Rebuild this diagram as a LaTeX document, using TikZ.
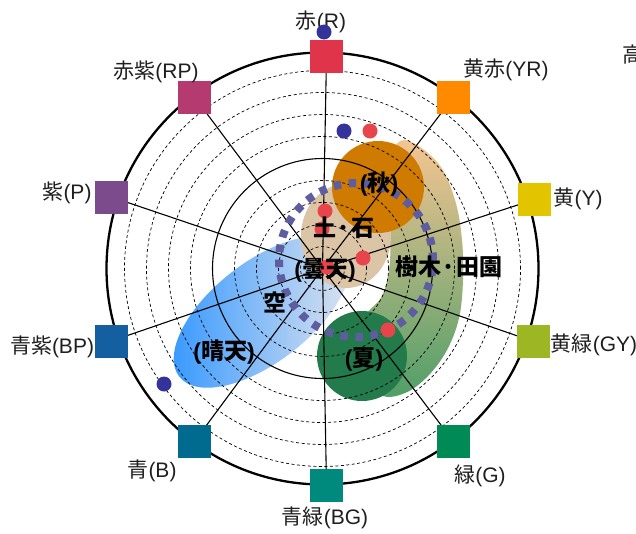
\documentclass[tikz,border=0pt]{standalone}
\usepackage{fontspec}
\setmainfont{Liberation Sans}
\newfontfamily\jp{Noto Sans CJK JP}
\definecolor{cR}{HTML}{E0344A}
\definecolor{cYR}{HTML}{FF8A00}
\definecolor{cY}{HTML}{E3C400}
\definecolor{cGY}{HTML}{9DB623}
\definecolor{cG}{HTML}{008B56}
\definecolor{cBG}{HTML}{008A7E}
\definecolor{cB}{HTML}{006B8F}
\definecolor{cBP}{HTML}{145F9F}
\definecolor{cP}{HTML}{7B4B8C}
\definecolor{cRP}{HTML}{B43A70}
\definecolor{autumn}{HTML}{CF7A00}
\definecolor{soil}{HTML}{DCC4A6}
\definecolor{summer}{HTML}{237A4B}
\definecolor{bandtop}{HTML}{F5C592}
\definecolor{bandmid}{HTML}{B0AB7E}
\definecolor{bandbot}{HTML}{4F9E68}
\definecolor{skyL}{HTML}{3096FF}
\definecolor{skyR}{HTML}{E6E7EE}
\definecolor{loopc}{HTML}{5D5DA0}
\definecolor{reddot}{HTML}{E8444C}
\definecolor{bluedot}{HTML}{333399}
\begin{document}
\begin{tikzpicture}[x=1pt,y=-1pt,
  hue/.style={minimum size=33pt, inner sep=0pt, draw=none},
  lab/.style={font=\fontsize{21}{21}\selectfont, inner sep=0pt, text=black!88},
  ov/.style={font=\fontsize{23}{23}\selectfont\bfseries, inner sep=0pt},
  spoke/.style={line width=1.1pt},
  ring/.style={dash pattern=on 3pt off 2.5pt, line width=0.7pt},
  rdot/.style={circle, minimum size=15pt, inner sep=0pt, fill=reddot},
  bdot/.style={circle, minimum size=15pt, inner sep=0pt, fill=bluedot},
]
\useasboundingbox (0,0) rectangle (636,533);
\fill[white] (0,0) rectangle (636,533);
\coordinate (O) at (322.5,268.5);

% ---- overlays ----
\shade[top color=bandtop, middle color=bandmid, bottom color=bandbot]
  plot[smooth cycle, tension=0.6] coordinates {
  (405,140) (438,163) (455,200) (462,240) (463,280) (459,318) (447,350)
  (428,376) (405,393) (380,395) (350,370) (350,335) (368,312) (382,296)
  (389,270) (390,240) (385,195) (388,160)};
\shade[left color=skyL, right color=skyR, rotate around={38:(262,312)}]
  (262,312) ellipse [x radius=105pt, y radius=50pt];
\fill[soil] (346,236) ellipse [x radius=45pt, y radius=52pt];
\fill[autumn] (378,187) circle [radius=46pt];
\fill[summer] (362,356) circle [radius=45pt];

% ---- grid ----
\foreach \r in {22,44,66,88,132,154,176,198}
  \draw[ring] (O) circle [radius=\r pt];
\draw[line width=1.1pt] (O) circle [radius=110pt];
\draw[line width=2.3pt] (O) circle [radius=216pt];

% ---- hue squares ----
\coordinate (pR) at (326.5,56.5);
\coordinate (pYR) at (453.5,97);
\coordinate (pY) at (534.5,199.5);
\coordinate (pGY) at (533.5,341.5);
\coordinate (pG) at (453.5,441.5);
\coordinate (pBG) at (326.5,485.5);
\coordinate (pB) at (194.5,441.5);
\coordinate (pBP) at (111.5,341);
\coordinate (pP) at (111.5,197);
\coordinate (pRP) at (194.5,97);
\foreach \h in {R,YR,Y,GY,G,BG,B,BP,P,RP}
  \draw[spoke] (O) -- (p\h);
\node[hue, fill=cR] (sqR) at (pR) {};
\node[hue, fill=cYR] (sqYR) at (pYR) {};
\node[hue, fill=cY] (sqY) at (pY) {};
\node[hue, fill=cGY] (sqGY) at (pGY) {};
\node[hue, fill=cG] (sqG) at (pG) {};
\node[hue, fill=cBG] (sqBG) at (pBG) {};
\node[hue, fill=cB] (sqB) at (pB) {};
\node[hue, fill=cBP] (sqBP) at (pBP) {};
\node[hue, fill=cP] (sqP) at (pP) {};
\node[hue, fill=cRP] (sqRP) at (pRP) {};

% ---- hue labels ----
\node[lab] (lR) at (321,22) {{\jp 赤}(R)};
\node[lab] (lRP) at (156,72) {{\jp 赤紫}(RP)};
\node[lab] (lP) at (67,193) {{\jp 紫}(P)};
\node[lab] (lBP) at (52,347) {{\jp 青紫}(BP)};
\node[lab] (lB) at (152,471) {{\jp 青}(B)};
\node[lab] (lBG) at (325,518) {{\jp 青緑}(BG)};
\node[lab] (lG) at (480,476) {{\jp 緑}(G)};
\node[lab] (lGY) at (594,345) {{\jp 黄緑}(GY)};
\node[lab] (lY) at (578,199) {{\jp 黄}(Y)};
\node[lab] (lYR) at (506,70) {{\jp 黄赤}(YR)};
\node[lab, anchor=west] (lHigh) at (622,55) {\jp 高};

% ---- dotted loop ----
\draw[loopc, line width=8pt, dash pattern=on 7.5pt off 7.6pt] (356,260) circle [radius=77pt];

% ---- dots ----
\node[bdot] (b1) at (324,32) {};
\node[bdot] (b2) at (344,131) {};
\node[bdot] (b3) at (164,384) {};
\node[rdot] (r1) at (370,131) {};
\node[rdot] (r2) at (325,211) {};
\node[rdot] (r3) at (322,229) {};
\node[rdot] (r4) at (363,258) {};
\node[rdot] (r5) at (327,267) {};
\node[rdot] (r6) at (388,330) {};

% ---- overlay texts ----
\node[ov] (tAut) at (379,184) {({\jp 秋})};
\node[ov] (tSoil) at (344,228) {\jp 土·石};
\node[ov] (tTree) at (449,267) {\jp 樹木·田園};
\node[ov] (tCloud) at (325,270) {({\jp 曇天})};
\node[ov] (tSky) at (275,302) {\jp 空};
\node[ov] (tFine) at (224,352) {({\jp 晴天})};
\node[ov] (tSum) at (364,359) {({\jp 夏})};
\end{tikzpicture}
\end{document}
